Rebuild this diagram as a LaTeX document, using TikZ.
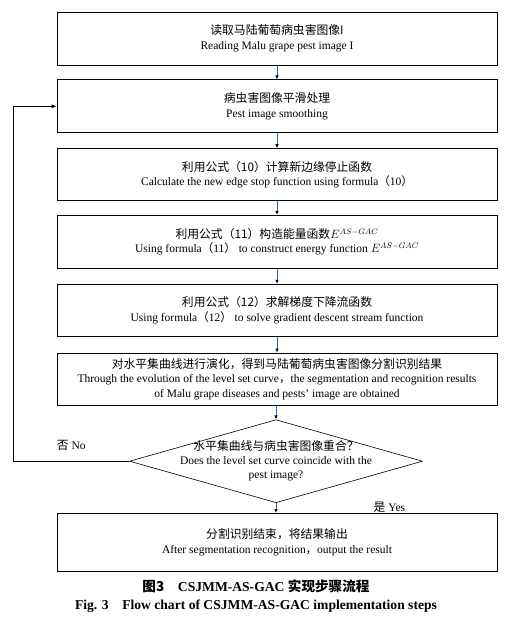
\documentclass[tikz,border=0pt]{standalone}
\usepackage{fontspec}
\setmainfont{Liberation Serif}
\newfontfamily\cjk{Noto Sans CJK SC}
\usetikzlibrary{positioning,arrows.meta,shapes.geometric}
\definecolor{cBlue}{HTML}{1F64C0}
\newcommand{\zh}[1]{{\cjk\fontsize{11.8}{15}\selectfont #1}}

\begin{document}
\begin{tikzpicture}[
    x=1pt, y=1pt,
    font=\fontsize{11.5}{14.5}\selectfont,
    box/.style={draw, line width=0.8pt, align=center, inner sep=2pt, minimum width=440pt, minimum height=53pt},
    decision/.style={draw, diamond, line width=0.6pt, inner sep=0pt, minimum width=293pt, minimum height=83pt},
    arr/.style={-{Latex[length=4pt, width=3.5pt, color=black]}, line width=0.8pt, cBlue},
    back/.style={-{Latex[length=5pt, width=4pt]}, line width=0.7pt, black},
    capt/.style={font=\bfseries\fontsize{13.6}{15}\selectfont},
    node distance=14pt
]
\useasboundingbox (0,0) rectangle (512,-618);

\node[box] (read) at (277,-38.5) {\zh{读取马陆葡萄病虫害图像I}\\Reading Malu grape pest image I};
\node[box, below=of read] (smooth) {\zh{病虫害图像平滑处理}\\Pest image smoothing};
\node[box, below=15pt of smooth, minimum height=52pt] (edgefn) {\zh{利用公式（10）计算新边缘停止函数}\\Calculate the new edge stop function using formula{\cjk（}10{\cjk）}};
\node[box, below=of edgefn] (energy) {\zh{利用公式（11）构造能量函数}$E^{AS-GAC}$\\Using formula{\cjk（}11{\cjk）} to construct energy function $E^{AS-GAC}$};
\node[box, below=15pt of energy, minimum height=52pt] (gradient) {\zh{利用公式（12）求解梯度下降流函数}\\Using formula{\cjk（}12{\cjk）} to solve gradient descent stream function};
\node[box, below=16pt of gradient, minimum height=52pt] (evolve) {\zh{对水平集曲线进行演化，得到马陆葡萄病虫害图像分割识别结果}\\Through the evolution of the level set curve{\cjk，}the segmentation and recognition results\\of Malu grape diseases and pests' image are obtained};
\node[decision, below=of evolve, xshift=-1pt,
      label={[align=center, font=\fontsize{11.5}{14}\selectfont]center:{\zh{水平集曲线与病虫害图像重合？}\\Does the level set curve coincide with the\\pest image?}}] (check) {};
\node[box, below=10pt of check, xshift=1pt, minimum height=58pt] (result) {\zh{分割识别结束，将结果输出}\\After segmentation recognition{\cjk，}output the result};

% caption
\node[capt, below=4pt of result, xshift=-21pt] (cap1) {{\cjk\bfseries 图3}\quad CSJMM{-}AS{-}GAC {\cjk\bfseries 实现步骤流程}};
\node[capt, below=0pt of cap1] (cap2) {Fig. 3\quad Flow chart of CSJMM-AS-GAC implementation steps};

\draw[arr] (read) -- (smooth);
\draw[arr] (smooth) -- (edgefn);
\draw[arr] (edgefn) -- (energy);
\draw[arr] (energy) -- (gradient);
\draw[arr] (gradient) -- (evolve);
\draw[arr] (evolve.south -| check) -- (check.north);
\draw[arr] (check.south) -- node[right=94pt, yshift=1pt, text=black] {\zh{是} Yes} (check.south |- result.north);
\draw[back] (check.west) -- node[above=7pt] {\zh{否} No} ++(-116,0) |- (smooth.west);
\end{tikzpicture}
\end{document}
